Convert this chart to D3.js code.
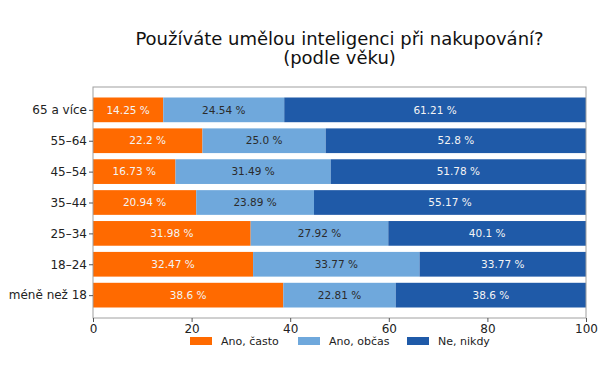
<!DOCTYPE html>
<html>
<head>
<meta charset="utf-8">
<script src="https://cdn.jsdelivr.net/npm/d3@7"></script>
<style>
  body { margin: 0; background: #fff; }
  text { font-family: "DejaVu Sans", sans-serif; }
</style>
</head>
<body>
<div id="chart"></div>
<script>
// data
const categories = ['65 a více', '55–64', '45–54', '35–44', '25–34', '18–24', 'méně než 18'];
const seriesNames = ['Ano, často', 'Ano, občas', 'Ne, nikdy'];
const often = [14.25, 22.2, 16.73, 20.94, 31.98, 32.47, 38.6];
const sometimes = [24.54, 25.0, 31.49, 23.89, 27.92, 33.77, 22.81];
const never = [61.21, 52.8, 51.78, 55.17, 40.1, 33.77, 38.6];
const xTicks = [0, 20, 40, 60, 80, 100];

const colors = ['#ff6a00', '#6fa8dc', '#1f5aa8'];
const labelColors = ['#f4f4f4', '#2b2b2b', '#f4f4f4'];

const W = 604, H = 384;
const M = { TOP: 87, LEFT: 93, RIGHT: 18, BOTTOM: 66 };
const innerW = W - M.LEFT - M.RIGHT;
const innerH = H - M.TOP - M.BOTTOM;

const svg = d3.select('#chart')
  .append('svg')
    .attr('width', W)
    .attr('height', H);

// title
const title = svg.append('text')
  .attr('text-anchor', 'middle')
  .attr('font-size', 18)
  .attr('fill', '#111');
title.append('tspan').attr('x', M.LEFT + innerW / 2).attr('y', 45).text('Používáte umělou inteligenci při nakupování?');
title.append('tspan').attr('x', M.LEFT + innerW / 2).attr('y', 64).text('(podle věku)');

const g = svg.append('g').attr('transform', `translate(${M.LEFT},${M.TOP})`);

const x = d3.scaleLinear().domain([0, 100]).range([0, innerW]);
// matplotlib-like limits: bars of height 0.8 with 5% margin
const y = d3.scaleLinear().domain([-0.74, categories.length - 1 + 0.74]).range([0, innerH]);
const barH = y(0.4) - y(-0.4);

const rows = categories.map((c, i) => ({ cat: c, i, vals: [often[i], sometimes[i], never[i]] }));
const stack = d3.stack().keys([0, 1, 2]).value((d, k) => d.vals[k]);
const layers = stack(rows);

const fmt = v => Number.isInteger(v) ? v.toFixed(1) : String(v);

layers.forEach((layer, k) => {
  const lg = g.append('g');
  lg.selectAll('rect')
    .data(layer)
    .join('rect')
      .attr('x', d => x(d[0]))
      .attr('y', d => y(d.data.i) - barH / 2)
      .attr('width', d => x(d[1]) - x(d[0]))
      .attr('height', barH)
      .attr('fill', colors[k]);
  lg.selectAll('text')
    .data(layer)
    .join('text')
      .attr('x', d => x((d[0] + d[1]) / 2))
      .attr('y', d => y(d.data.i))
      .attr('dy', '0.35em')
      .attr('text-anchor', 'middle')
      .attr('font-size', 10.5)
      .attr('fill', labelColors[k])
      .text(d => fmt(d.data.vals[k]) + ' %');
});

// frame
g.append('rect')
  .attr('x', 0).attr('y', 0)
  .attr('width', innerW).attr('height', innerH)
  .attr('fill', 'none')
  .attr('stroke', '#a0a0a0')
  .attr('stroke-width', 1);

// axes
const xAxis = g.append('g')
  .attr('transform', `translate(0,${innerH})`)
  .call(d3.axisBottom(x).tickValues(xTicks).tickSize(4).tickPadding(2).tickFormat(d3.format('d')));
xAxis.select('.domain').remove();
xAxis.selectAll('text').attr('font-size', 12).attr('fill', '#222').style('font-family', '"DejaVu Sans", sans-serif');
xAxis.selectAll('line').attr('stroke', '#555');

const yAxis = g.append('g')
  .call(d3.axisLeft(y).tickValues(d3.range(categories.length)).tickSize(4).tickPadding(2).tickFormat(i => categories[i]));
yAxis.select('.domain').remove();
yAxis.selectAll('text').attr('font-size', 12).attr('fill', '#222').style('font-family', '"DejaVu Sans", sans-serif');
yAxis.selectAll('line').attr('stroke', '#555');

// legend (nudged a little lower so it clears the 60/80 tick labels)
const legendX = [190, 298, 407];
const legend = svg.append('g').attr('transform', `translate(0,${M.TOP + innerH + 23})`);
seriesNames.forEach((name, k) => {
  legend.append('rect')
    .attr('x', legendX[k]).attr('y', -4)
    .attr('width', 22).attr('height', 8)
    .attr('fill', colors[k]);
  legend.append('text')
    .attr('x', legendX[k] + 31).attr('y', 0)
    .attr('dy', '0.35em')
    .attr('font-size', 11)
    .attr('fill', '#222')
    .text(name);
});
</script>
</body>
</html>
